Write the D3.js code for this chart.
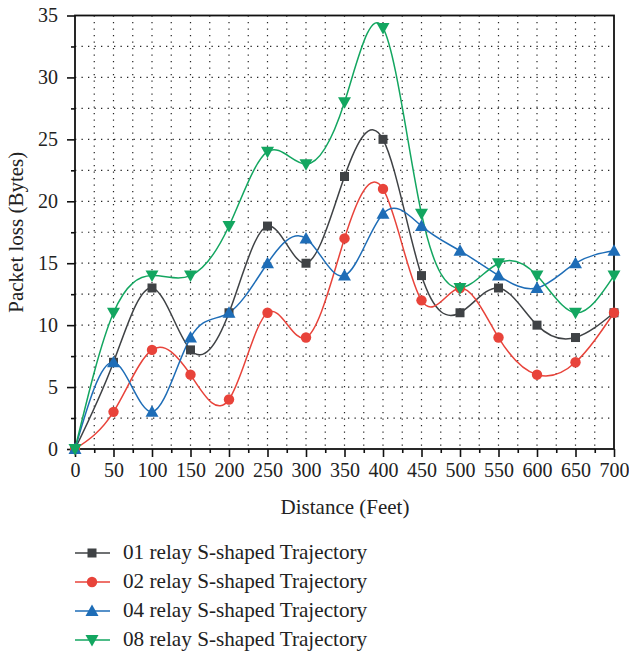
<!DOCTYPE html>
<html><head><meta charset="utf-8">
<script src="https://cdn.jsdelivr.net/npm/d3@7"></script>
<style>body{margin:0;background:#fff}svg text{font-family:"Liberation Serif","DejaVu Serif",serif;fill:#222}</style>
</head><body><svg id="c" width="629" height="654"></svg>
<script>
const distances=[0,50,100,150,200,250,300,350,400,450,500,550,600,650,700];
const relay01=[0,7,13,8,11,18,15,22,25,14,11,13,10,9,11];
const relay02=[0,3,8,6,4,11,9,17,21,12,13,9,6,7,11];
const relay04=[0,7,3,9,11,15,17,14,19,18,16,14,13,15,16];
const relay08=[0,11,14,14,18,24,23,28,34,19,13,15,14,11,14];
const seriesNames=["01 relay S-shaped Trajectory","02 relay S-shaped Trajectory","04 relay S-shaped Trajectory","08 relay S-shaped Trajectory"];
const xTicks=d3.range(0,701,50);
const yTicks=d3.range(0,36,5);

const series=[
 {name:seriesNames[0],vals:relay01,color:"#3f4245",sym:"square"},
 {name:seriesNames[1],vals:relay02,color:"#e8433a",sym:"circle"},
 {name:seriesNames[2],vals:relay04,color:"#1e6db7",sym:"up"},
 {name:seriesNames[3],vals:relay08,color:"#13a660",sym:"down"}
];
const svg=d3.select("#c");
const L=75,R=614,T=15.5,B=449;
const x=d3.scaleLinear().domain([0,700]).range([L,R]);
const y=d3.scaleLinear().domain([0,35]).range([B,T]);

// grid
const g=svg.append("g");
d3.range(25,700,25).forEach(v=>g.append("line").attr("x1",x(v)).attr("x2",x(v)).attr("y1",T).attr("y2",B)
 .attr("stroke","#222").attr("stroke-width",1.2).attr("stroke-dasharray","1.3,5.2"));
d3.range(2.5,35,2.5).forEach(v=>g.append("line").attr("y1",y(v)).attr("y2",y(v)).attr("x1",L).attr("x2",R)
 .attr("stroke","#222").attr("stroke-width",1.2).attr("stroke-dasharray","1.3,5.2"));

// axes
svg.append("g").attr("transform",`translate(0,${B})`).call(d3.axisBottom(x).tickValues(xTicks).tickSize(8).tickPadding(6));
svg.append("g").attr("transform",`translate(0,${B})`).call(d3.axisBottom(x).tickValues(d3.range(25,700,50)).tickSize(4).tickFormat(""));
svg.append("g").attr("transform",`translate(${L},0)`).call(d3.axisLeft(y).tickValues(yTicks).tickSize(8).tickPadding(9));
svg.append("g").attr("transform",`translate(${L},0)`).call(d3.axisLeft(y).tickValues(d3.range(2.5,35,5)).tickSize(4).tickFormat(""));
svg.selectAll(".domain").remove();
svg.selectAll(".tick line").attr("stroke","#111").attr("stroke-width",1.6);
svg.selectAll(".tick text").attr("font-size",20).attr("fill","#222").style("font-family","'Liberation Serif',serif");
svg.append("rect").attr("x",L).attr("y",T).attr("width",R-L).attr("height",B-T).attr("fill","none").attr("stroke","#111").attr("stroke-width",1.8);

// lines
const line=d3.line().x((d,i)=>x(distances[i])).y(d=>y(d)).curve(d3.curveNatural);
function marker(sel,sym,color,cx,cy){
 if(sym==="square") sel.append("rect").attr("x",cx-4.5).attr("y",cy-4.5).attr("width",9).attr("height",9).attr("fill",color);
 else if(sym==="circle") sel.append("circle").attr("cx",cx).attr("cy",cy).attr("r",5.2).attr("fill",color);
 else if(sym==="up") sel.append("path").attr("d",`M${cx},${cy-6.5}L${cx+6.5},${cy+5}L${cx-6.5},${cy+5}Z`).attr("fill",color);
 else sel.append("path").attr("d",`M${cx},${cy+6.5}L${cx+6.5},${cy-5}L${cx-6.5},${cy-5}Z`).attr("fill",color);
}
series.forEach(s=>{
 svg.append("path").attr("d",line(s.vals)).attr("fill","none").attr("stroke",s.color).attr("stroke-width",1.5);
});
series.forEach(s=>{
 const mg=svg.append("g");
 s.vals.forEach((v,i)=>marker(mg,s.sym,s.color,x(distances[i]),y(v)));
});

// titles
svg.append("text").attr("x",345).attr("y",514).attr("text-anchor","middle").attr("font-size",21).text("Distance (Feet)");
svg.append("text").attr("transform",`translate(23,${(T+B)/2}) rotate(-90)`).attr("text-anchor","middle").attr("font-size",21).text("Packet loss (Bytes)");

// legend
const ly=[553,582,611,640];
series.forEach((s,i)=>{
 const lg=svg.append("g");
 lg.append("line").attr("x1",75).attr("x2",110).attr("y1",ly[i]).attr("y2",ly[i]).attr("stroke",s.color).attr("stroke-width",1.5);
 marker(lg,s.sym,s.color,92,ly[i]);
 lg.append("text").attr("x",123).attr("y",ly[i]+6).attr("font-size",21.2).text(s.name);
});
</script></body></html>
